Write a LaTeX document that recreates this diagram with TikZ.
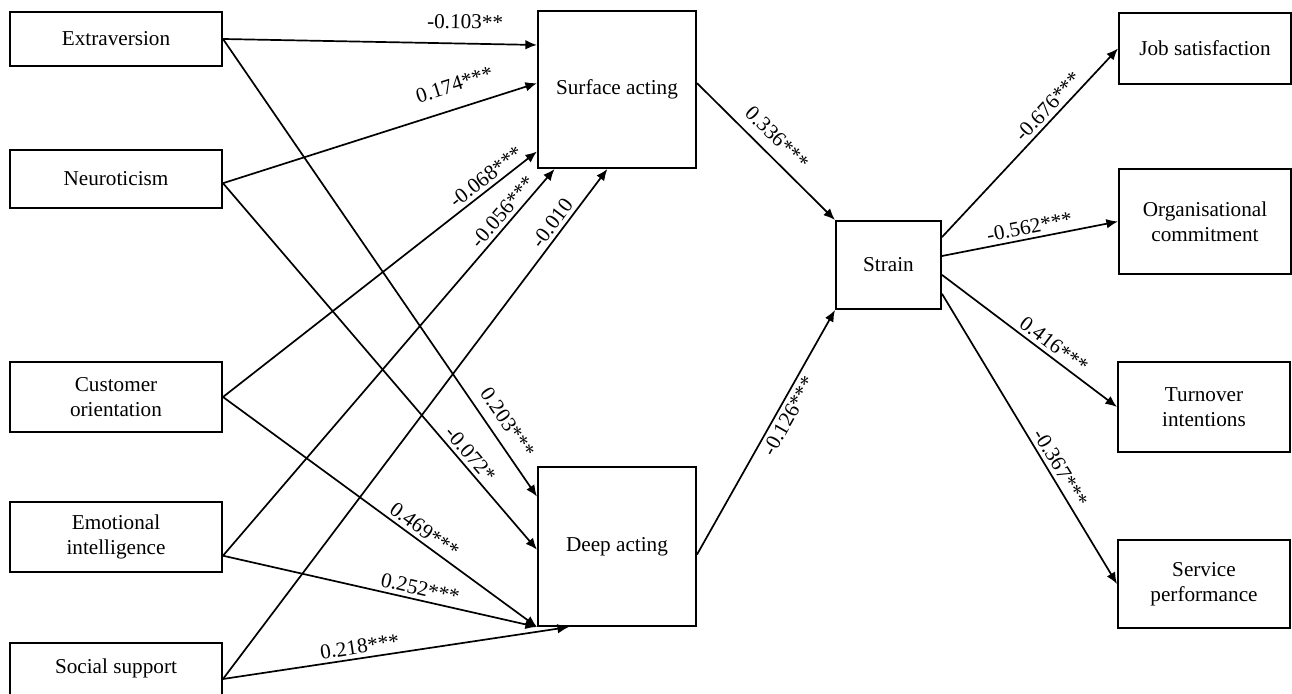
\documentclass[tikz,border=0pt]{standalone}
\usepackage{fontspec}
\setmainfont{Liberation Serif}
\usetikzlibrary{arrows.meta,calc}

\begin{document}
\begin{tikzpicture}[x=0.5pt,y=-0.5pt,
    box/.style={draw, line width=1pt, align=center, inner sep=0pt,
      font=\fontsize{10.6}{12.5}\selectfont},
    srcbox/.style={box, minimum width=106pt},
    outbox/.style={box, minimum width=86pt},
    lbl/.style={font=\fontsize{10.6}{12.5}\selectfont, sloped, inner sep=1.8pt},
    path/.style={line width=0.85pt, -{Latex[length=5.8pt,width=4.8pt]}}]
  \useasboundingbox (0,0) rectangle (1292,694);

  % predictors
  \node [srcbox, minimum height=27pt] (ext) at (116,39) {Extraversion};
  \node [srcbox, minimum height=29pt] (neu) at (116,179) {Neuroticism};
  \node [srcbox, minimum height=35pt] (cus) at (116,397) {Customer\\orientation};
  \node [srcbox, minimum height=35pt] (emo) at (116,537) {Emotional\\intelligence};
  \node [srcbox, minimum height=36pt] (soc) at (116,679) {\raisebox{13pt}{Social support}};

  % mediators
  \node [box, minimum width=79pt, minimum height=78.5pt] (surf) at (617,89.5) {Surface acting};
  \node [box, minimum width=79pt, minimum height=79.5pt] (deep) at (617,546.5) {Deep acting};
  \node [box, minimum width=52.5pt, minimum height=44pt] (strain) at (888.5,265) {Strain};

  % outcomes
  \node [outbox, minimum height=35.5pt] (job) at (1205,48.5) {Job satisfaction};
  \node [outbox, minimum height=52.5pt] (org) at (1205,221.5) {Organisational\\commitment};
  \node [outbox, minimum height=45pt] (turn) at (1204,407) {Turnover\\intentions};
  \node [outbox, minimum height=44pt] (serv) at (1204,584) {Service\\performance};

  % to surface acting
  \draw [path] (ext.east) -- node [lbl, pos=0.77, above=5pt] {-0.103**}
    ($(surf.north west)!0.22!(surf.south west)$);
  \draw [path] ($(neu.north east)!0.57!(neu.south east)$) -- node [lbl, pos=0.76, above=6pt] {0.174***}
    ($(surf.north west)!0.46!(surf.south west)$);
  \draw [path] (cus.east) -- node [lbl, pos=0.86, above] {-0.068***}
    ($(surf.north west)!0.89!(surf.south west)$);
  \draw [path] ($(emo.north east)!0.76!(emo.south east)$) -- node [lbl, pos=0.87, above] {-0.056***}
    ($(surf.south west)!0.11!(surf.south east)$);
  \draw [path] (soc.east) -- node [lbl, pos=0.88, above] {-0.010}
    ($(surf.south west)!0.44!(surf.south east)$);

  % to deep acting
  \draw [path] (ext.east) -- node [lbl, pos=0.86, above=3pt] {0.203***}
    ($(deep.north west)!0.19!(deep.south west)$);
  \draw [path] ($(neu.north east)!0.57!(neu.south east)$) -- node [lbl, pos=0.76, above] {-0.072*}
    ($(deep.north west)!0.52!(deep.south west)$);
  \draw [path] (cus.east) -- node [lbl, pos=0.62, above] {0.469***} (deep.south west);
  \draw [path] ($(emo.north east)!0.76!(emo.south east)$) -- node [lbl, pos=0.62, above] {0.252***}
    (deep.south west);
  \draw [path] (soc.east) -- node [lbl, pos=0.40, above] {0.218***}
    ($(deep.south west)!0.2!(deep.south east)$);

  % to strain
  \draw [path] ($(surf.north east)!0.46!(surf.south east)$) -- node [lbl, pos=0.49, above=3pt] {0.336***}
    (strain.north west);
  \draw [path] ($(deep.north east)!0.55!(deep.south east)$) -- node [lbl, pos=0.59, below] {-0.126***}
    (strain.south west);

  % outcomes
  \draw [path] ($(strain.north east)!0.19!(strain.south east)$) -- node [lbl, pos=0.65, above] {-0.676***}
    (job.west);
  \draw [path] ($(strain.north east)!0.40!(strain.south east)$) -- node [lbl, pos=0.51, above] {-0.562***}
    (org.west);
  \draw [path] ($(strain.north east)!0.61!(strain.south east)$) -- node [lbl, pos=0.60, above] {0.416***}
    (turn.west);
  \draw [path] ($(strain.north east)!0.82!(strain.south east)$) -- node [lbl, pos=0.62, above] {-0.367***}
    (serv.west);
\end{tikzpicture}
\end{document}
